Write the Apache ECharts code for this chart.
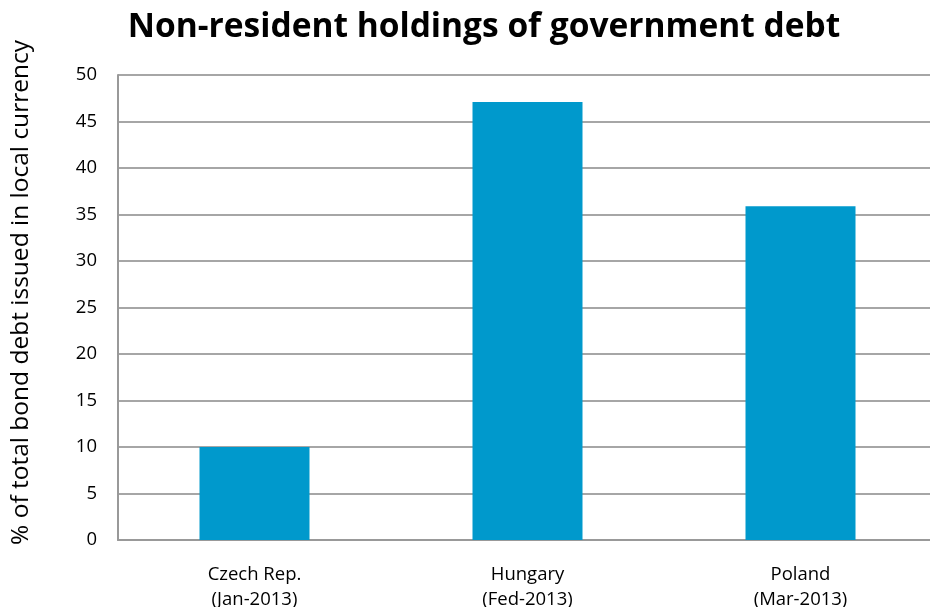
<!DOCTYPE html>
<html><head><meta charset="utf-8">
<script src="https://cdn.jsdelivr.net/npm/echarts@6/dist/echarts.min.js"></script>
<style>html,body{margin:0;padding:0;background:#fff}#c{width:930px;height:607px}</style>
</head><body><div id="c"></div>
<script>
const categories = ["Czech Rep.\n(Jan-2013)", "Hungary\n(Fed-2013)", "Poland\n(Mar-2013)"];
const values = [10.0, 47.1, 35.9];
const yTicks = [0, 5, 10, 15, 20, 25, 30, 35, 40, 45, 50];

const chart = echarts.init(document.getElementById('c'));
chart.setOption({
  animation: false,
  title: {
    text: 'Non-resident holdings of government debt',
    left: 479, top: 5, textAlign: 'center',
    textStyle: {fontFamily: 'Open Sans', fontWeight: 'bold', fontSize: 33.5, color: '#000'}
  },
  grid: {left: 118, top: 75, width: 819, height: 465, containLabel: false, outerBoundsMode: 'none'},
  xAxis: {
    type: 'category', data: categories,
    axisLine: {lineStyle: {color: '#999', width: 2}},
    axisTick: {show: false},
    axisLabel: {fontFamily: 'Open Sans', fontSize: 18.5, color: '#000', margin: 22, lineHeight: 25}
  },
  yAxis: {
    type: 'value', min: yTicks[0], max: yTicks[yTicks.length - 1], interval: 5,
    name: '% of total bond debt issued in local currency',
    nameLocation: 'middle', nameGap: 84, nameRotate: 90,
    nameTextStyle: {fontFamily: 'Open Sans', fontSize: 24.5, color: '#000', padding: [0, 0, 0, 30]},
    axisLine: {show: true, lineStyle: {color: '#999', width: 2}},
    axisTick: {show: false},
    splitLine: {lineStyle: {color: '#a6a6a6', width: 2}},
    axisLabel: {fontFamily: 'Open Sans', fontSize: 18.5, color: '#000', margin: 21}
  },
  series: [{
    type: 'bar', data: values, barWidth: 110,
    itemStyle: {color: '#0099CC'}
  }]
});
</script></body></html>
